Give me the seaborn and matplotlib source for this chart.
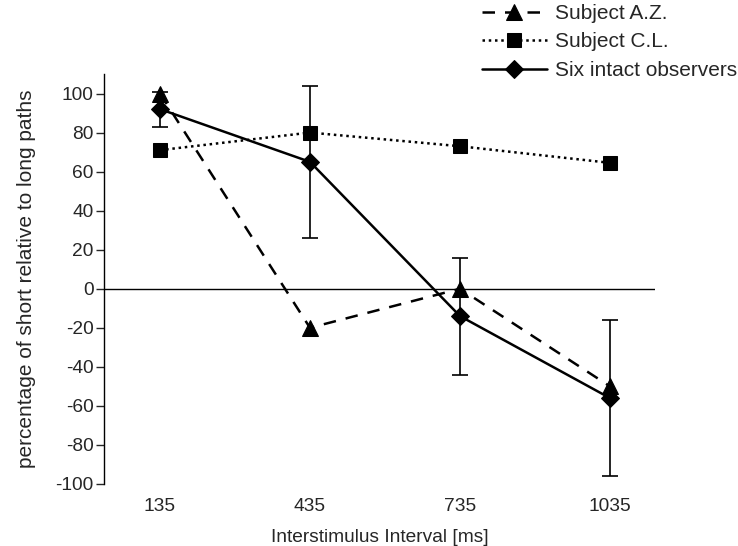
import numpy as np
import pandas as pd
import matplotlib
matplotlib.use("Agg")
import matplotlib.pyplot as plt
import seaborn as sns

isi = ["135", "435", "735", "1035"]
subject_az = [100, -20, 0, -50]
subject_cl = [71, 80, 73, 64.5]
six_intact = [92, 65, -14, -56]
six_err = [9, 39, 30, 40]

sns.set_style("white")
plt.rcParams["font.family"] = ["Liberation Sans", "DejaVu Sans"]
plt.rcParams["axes.unicode_minus"] = False

pos = np.arange(len(isi))
df = pd.DataFrame({
    "pos": np.tile(pos, 3),
    "val": subject_az + subject_cl + six_intact,
    "grp": ["Subject A.Z."] * 4 + ["Subject C.L."] * 4 + ["Six intact observers"] * 4,
})

fig = plt.figure(figsize=(7.38, 5.46), dpi=100)
ax = fig.add_axes([104 / 738, 1 - 484 / 546, 551 / 738, 410 / 546])

ax.axhline(0, color="black", lw=1, zorder=1)

styles = {
    "Subject A.Z.": dict(ls=(0, (5, 4)), marker="^", ms=11),
    "Subject C.L.": dict(ls=(0, (1, 1.5)), marker="s", ms=9.5),
    "Six intact observers": dict(ls="-", marker="D", ms=9),
}
for name, st in styles.items():
    sub = df[df["grp"] == name]
    sns.lineplot(data=sub, x="pos", y="val", ax=ax, color="black", lw=1.8,
                 linestyle=st["ls"], marker=st["marker"], markersize=st["ms"],
                 markeredgecolor="black", label=name, zorder=3)

ax.errorbar(pos, six_intact, yerr=six_err, fmt="none", ecolor="black",
            elinewidth=1.2, capsize=6, capthick=1.2, zorder=2)

ax.set_xlim(-0.373, 3.3)
ax.set_ylim(-100, 110)
ax.set_yticks(np.arange(-100, 101, 20))
ax.set_xticks(pos)
ax.set_xticklabels(isi)
ax.tick_params(axis="y", direction="out", length=6, width=1, labelsize=13.8, left=True, pad=1.5)
ax.tick_params(axis="x", length=0, labelsize=13.8, pad=10)
for s in ["top", "right", "bottom"]:
    ax.spines[s].set_visible(False)
ax.spines["left"].set_color("black")
ax.spines["left"].set_linewidth(1)

ax.set_xlabel("Interstimulus Interval [ms]", fontsize=13.8, labelpad=10.5)
ax.set_ylabel("percentage of short relative to long paths", fontsize=15, labelpad=14)

ax.legend(loc="upper left", bbox_to_anchor=(480 / 738, 1 - 2 / 546), bbox_transform=fig.transFigure,
          frameon=False, fontsize=15, handlelength=3.1, labelspacing=0.45,
          handletextpad=0.4, borderaxespad=0.0, borderpad=0.1)

fig.savefig("out.png", dpi=100)
